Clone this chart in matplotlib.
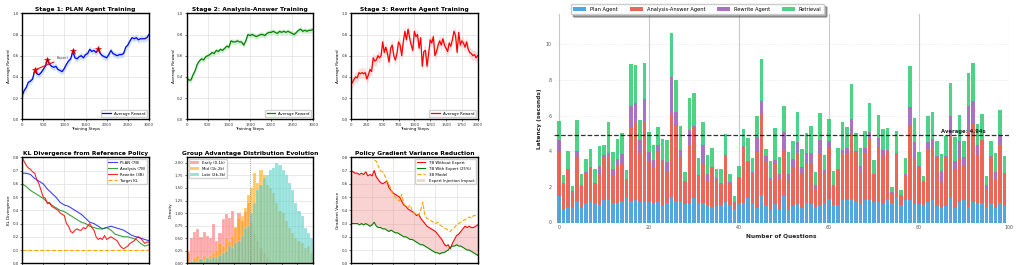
import matplotlib
matplotlib.use('Agg')
import matplotlib.pyplot as plt
import numpy as np

plt.rcParams['font.family'] = 'DejaVu Sans'

# ---------------- data ----------------
steps_3000 = np.arange(0, 3001, 50)
steps_2000 = np.arange(0, 2001, 25)
steps_kl100 = np.arange(0, 3001, 100)

stage1_reward = [0.22, 0.27, 0.30, 0.35, 0.36, 0.38, 0.46, 0.43, 0.42, 0.44, 0.47, 0.50, 0.56, 0.52,
                 0.50, 0.49, 0.50, 0.47, 0.46, 0.45, 0.48, 0.52, 0.55, 0.57, 0.64, 0.58, 0.57, 0.59,
                 0.60, 0.58, 0.61, 0.62, 0.66, 0.64, 0.65, 0.63, 0.66, 0.62, 0.60, 0.59, 0.58, 0.61,
                 0.65, 0.62, 0.61, 0.60, 0.61, 0.61, 0.62, 0.68, 0.70, 0.74, 0.77, 0.76, 0.77, 0.75,
                 0.76, 0.76, 0.76, 0.77, 0.80]
stage1_band = 0.03
expert_steps = [300, 600, 1200, 1800]
expert_rewards = [0.465, 0.56, 0.64, 0.66]

stage2_reward = [0.39, 0.37, 0.37, 0.42, 0.46, 0.52, 0.55, 0.57, 0.56, 0.59, 0.60, 0.61, 0.63, 0.62,
                 0.65, 0.64, 0.66, 0.65, 0.67, 0.69, 0.68, 0.74, 0.73, 0.73, 0.74, 0.73, 0.73, 0.70,
                 0.74, 0.80, 0.79, 0.80, 0.79, 0.78, 0.79, 0.80, 0.80, 0.79, 0.81, 0.82, 0.82, 0.83,
                 0.82, 0.81, 0.83, 0.82, 0.83, 0.82, 0.83, 0.82, 0.81, 0.80, 0.82, 0.84, 0.85, 0.83,
                 0.84, 0.83, 0.84, 0.84, 0.85]
stage2_band = 0.025

stage3_reward = [0.33, 0.35, 0.38, 0.40, 0.39, 0.44, 0.43, 0.44, 0.43, 0.44, 0.38, 0.42, 0.47, 0.45,
                 0.58, 0.55, 0.56, 0.60, 0.58, 0.60, 0.73, 0.63, 0.68, 0.62, 0.54, 0.67, 0.70, 0.60,
                 0.56, 0.62, 0.73, 0.70, 0.60, 0.73, 0.83, 0.75, 0.85, 0.77, 0.70, 0.65, 0.83, 0.78,
                 0.80, 0.67, 0.77, 0.50, 0.64, 0.65, 0.50, 0.62, 0.75, 0.72, 0.78, 0.60, 0.64, 0.70,
                 0.74, 0.70, 0.76, 0.70, 0.67, 0.64, 0.72, 0.69, 0.75, 0.83, 0.79, 0.63, 0.82, 0.70,
                 0.74, 0.72, 0.68, 0.73, 0.66, 0.63, 0.62, 0.60, 0.61, 0.58, 0.60]
stage3_band = 0.05

kl_plan = [0.68, 0.68, 0.67, 0.64, 0.62, 0.60, 0.56, 0.53, 0.50, 0.46, 0.44, 0.43, 0.41, 0.39, 0.37,
           0.34, 0.31, 0.30, 0.28, 0.26, 0.27, 0.28, 0.27, 0.26, 0.25, 0.23, 0.21, 0.20, 0.19, 0.18, 0.17]
kl_analysis = [0.60, 0.58, 0.55, 0.53, 0.51, 0.49, 0.46, 0.44, 0.42, 0.40, 0.39, 0.37, 0.35, 0.33,
               0.31, 0.30, 0.28, 0.27, 0.26, 0.26, 0.27, 0.25, 0.22, 0.21, 0.20, 0.20, 0.19, 0.18,
               0.15, 0.13, 0.14]
kl_rewrite = [0.80, 0.77, 0.74, 0.72, 0.71, 0.69, 0.68, 0.63, 0.60, 0.55, 0.50, 0.49, 0.45, 0.46,
              0.43, 0.42, 0.41, 0.40, 0.38, 0.37, 0.36, 0.30, 0.28, 0.24, 0.23, 0.25, 0.26, 0.25,
              0.25, 0.27, 0.26, 0.28, 0.30, 0.27, 0.25, 0.20, 0.18, 0.19, 0.18, 0.21, 0.18, 0.19,
              0.20, 0.19, 0.18, 0.17, 0.14, 0.12, 0.11, 0.12, 0.13, 0.15, 0.16, 0.17, 0.19, 0.20,
              0.19, 0.17, 0.15, 0.16, 0.16]
kl_target = 0.1

adv_bins = np.arange(-2.0, 2.0001, 0.1)
adv_early = [0.20, 0.50, 0.62, 0.68, 0.52, 0.62, 0.55, 0.50, 0.78, 0.45, 0.60, 0.88, 0.98, 0.90,
             1.05, 0.70, 1.00, 0.85, 1.02, 1.20, 0.80, 0.60, 0.45, 0.30, 0.20, 0.12, 0.05, 0.02,
             0.0, 0.0, 0.0, 0.0, 0.0, 0.0, 0.0, 0.0, 0.0, 0.0, 0.0, 0.0]
adv_mid = [0.25, 0.05, 0.10, 0.15, 0.08, 0.15, 0.10, 0.15, 0.20, 0.25, 0.40, 0.35, 0.50, 0.45,
           0.55, 0.72, 0.90, 0.95, 1.10, 1.35, 1.50, 1.80, 1.60, 1.85, 1.75, 1.55, 1.50, 1.40,
           1.20, 1.05, 1.00, 0.85, 0.70, 0.60, 0.50, 0.45, 0.40, 0.30, 0.35, 0.20]
adv_late = [0.0, 0.02, 0.05, 0.03, 0.08, 0.05, 0.10, 0.08, 0.12, 0.10, 0.15, 0.20, 0.25, 0.35,
            0.30, 0.40, 0.45, 0.55, 0.70, 0.75, 1.00, 1.20, 1.45, 1.55, 1.70, 1.75, 1.85, 1.90,
            2.00, 1.95, 1.85, 1.75, 1.60, 1.45, 1.20, 1.05, 0.95, 0.70, 0.60, 0.50]

var_no_expert = [0.70, 0.69, 0.68, 0.68, 0.67, 0.68, 0.67, 0.69, 0.66, 0.67, 0.66, 0.70, 0.65, 0.63,
                 0.61, 0.60, 0.61, 0.62, 0.57, 0.55, 0.53, 0.52, 0.51, 0.50, 0.47, 0.44, 0.43, 0.41,
                 0.40, 0.39, 0.38, 0.36, 0.37, 0.34, 0.32, 0.30, 0.28, 0.27, 0.26, 0.25, 0.24, 0.22,
                 0.20, 0.18, 0.15, 0.13, 0.14, 0.11, 0.15, 0.18, 0.21, 0.22, 0.24, 0.26, 0.28, 0.27,
                 0.28, 0.27, 0.27, 0.28, 0.29]
var_with_expert = [0.30, 0.30, 0.30, 0.30, 0.29, 0.30, 0.29, 0.30, 0.29, 0.28, 0.29, 0.31, 0.28, 0.27,
                   0.27, 0.26, 0.26, 0.25, 0.24, 0.25, 0.24, 0.23, 0.23, 0.22, 0.21, 0.20, 0.20, 0.19,
                   0.18, 0.18, 0.17, 0.16, 0.15, 0.14, 0.14, 0.13, 0.12, 0.11, 0.10, 0.09, 0.08, 0.08,
                   0.07, 0.08, 0.08, 0.09, 0.10, 0.12, 0.13, 0.13, 0.14, 0.13, 0.13, 0.12, 0.11, 0.10,
                   0.10, 0.09, 0.08, 0.07, 0.06]
var_3b_steps = np.arange(500, 3001, 50)
var_3b = [0.82, 0.78, 0.77, 0.73, 0.70, 0.69, 0.66, 0.62, 0.60, 0.55, 0.52, 0.50, 0.48, 0.47, 0.52,
          0.45, 0.43, 0.42, 0.44, 0.40, 0.38, 0.37, 0.36, 0.40, 0.46, 0.36, 0.34, 0.33, 0.32, 0.31,
          0.30, 0.31, 0.29, 0.28, 0.27, 0.26, 0.25, 0.24, 0.26, 0.27, 0.29, 0.30, 0.31, 0.32, 0.33,
          0.34, 0.35, 0.34, 0.36, 0.36, 0.36]

# latency: cumulative stack tops, per question (0..99)
plan_top = [1.50, 0.71, 0.86, 0.82, 1.20, 0.82, 1.07, 1.16, 1.07, 0.99, 1.29, 1.29, 1.07, 1.10, 1.22,
            1.39, 1.18, 1.25, 1.16, 1.16, 1.14, 1.10, 1.16, 0.94, 1.07, 1.44, 1.20, 1.16, 1.03, 1.03,
            1.40, 1.03, 1.07, 0.94, 0.88, 0.94, 0.97, 1.16, 1.01, 0.75, 1.09, 1.09, 1.40, 1.07, 0.82,
            1.54, 1.01, 0.71, 1.03, 0.70, 1.54, 0.69, 0.94, 1.03, 0.84, 1.07, 1.03, 0.88, 1.01, 1.07,
            1.31, 1.01, 1.01, 1.29, 1.25, 1.25, 1.20, 1.07, 1.29, 1.29, 1.16, 1.16, 1.03, 1.31, 1.07,
            1.44, 0.97, 1.25, 1.29, 1.03, 1.03, 1.01, 1.16, 1.25, 0.94, 0.82, 0.94, 1.40, 0.82, 1.16,
            1.25, 0.88, 1.16, 1.03, 1.10, 0.88, 1.07, 0.79, 1.10, 0.94]
analysis_top = [3.97, 2.19, 2.94, 1.72, 3.69, 2.06, 2.79, 3.09, 2.19, 2.75, 3.69, 3.69, 2.66, 3.20, 3.35,
                2.38, 5.32, 5.65, 3.93, 5.65, 3.45, 3.13, 4.00, 3.45, 2.85, 6.12, 5.47, 3.69, 2.28, 4.34,
                5.37, 2.62, 3.31, 2.34, 3.09, 2.42, 2.19, 3.75, 2.23, 1.10, 2.53, 4.25, 3.41, 2.79, 3.97,
                6.12, 3.41, 2.47, 3.31, 2.42, 4.06, 2.34, 3.13, 3.82, 2.75, 3.31, 3.31, 1.87, 3.84, 2.75,
                4.19, 2.10, 3.00, 3.88, 3.88, 4.96, 3.97, 2.85, 3.88, 4.76, 2.72, 4.25, 3.78, 4.03, 1.67,
                3.88, 1.48, 2.66, 5.41, 3.60, 3.13, 2.28, 4.10, 4.21, 3.69, 2.28, 3.69, 4.91, 2.98, 3.63,
                3.16, 5.09, 5.56, 3.78, 4.63, 1.85, 3.69, 2.47, 4.34, 2.75]
rewrite_top = [4.63, 2.23, 3.00, 1.76, 4.00, 2.10, 2.83, 3.13, 2.23, 3.16, 3.78, 3.93, 3.00, 3.54, 3.82,
               2.42, 6.55, 6.72, 4.66, 6.91, 3.97, 3.50, 4.33, 3.50, 3.41, 8.18, 6.22, 4.06, 2.32, 5.22,
               5.41, 2.66, 4.34, 2.75, 3.13, 2.49, 2.23, 3.78, 2.27, 1.14, 2.57, 4.29, 3.46, 2.85, 4.81,
               6.82, 3.75, 2.51, 3.50, 2.75, 5.10, 2.75, 3.58, 4.53, 3.09, 3.91, 3.88, 2.10, 4.66, 2.94,
               4.59, 2.13, 3.03, 4.06, 4.16, 5.79, 4.00, 3.20, 4.16, 5.09, 2.75, 4.76, 4.06, 4.06, 1.70,
               3.91, 1.52, 2.70, 6.50, 4.53, 3.16, 2.32, 4.53, 4.68, 3.73, 2.88, 3.73, 5.97, 3.45, 4.57,
               3.69, 6.55, 6.84, 4.38, 4.66, 2.10, 3.73, 2.85, 4.85, 2.79]
retrieval_top = [5.69, 2.66, 4.03, 2.04, 5.75, 2.75, 3.56, 4.12, 3.00, 4.29, 4.34, 5.66, 3.95, 4.68, 5.04,
                 2.94, 8.90, 8.84, 5.78, 8.93, 5.09, 4.34, 5.37, 4.68, 4.63, 10.65, 8.00, 5.41, 2.85, 6.97,
                 7.30, 3.65, 5.64, 3.78, 4.21, 3.03, 3.00, 4.96, 2.72, 1.50, 3.16, 5.24, 4.74, 3.60, 5.97,
                 9.19, 4.12, 3.46, 5.28, 3.69, 6.54, 3.97, 4.57, 6.20, 4.12, 5.04, 5.41, 2.83, 6.16, 3.78,
                 5.79, 2.88, 4.21, 5.66, 5.37, 7.77, 5.00, 4.19, 5.13, 6.72, 3.50, 6.03, 5.24, 5.32, 2.00,
                 5.13, 1.82, 3.63, 8.78, 5.88, 3.97, 2.60, 5.97, 6.22, 4.57, 3.82, 4.85, 7.85, 4.78, 6.03,
                 4.57, 8.37, 8.93, 5.52, 6.12, 2.60, 4.57, 3.93, 6.31, 3.73]
avg_latency = 4.94

plan_lat = np.array(plan_top)
analysis_lat = np.array(analysis_top) - np.array(plan_top)
rewrite_lat = np.array(rewrite_top) - np.array(analysis_top)
retrieval_lat = np.array(retrieval_top) - np.array(rewrite_top)
questions = np.arange(len(plan_top))

# ---------------- figure ----------------
W, H = 1020, 265
fig = plt.figure(figsize=(W / 100, H / 100), dpi=100)

def px_axes(left, top, right, bottom):
    return fig.add_axes([left / W, (H - bottom) / H, (right - left) / W, (bottom - top) / H])

TICK = 2.8
LAB = 3.0
TITLE = 4.3

def style_small(ax):
    for s in ax.spines.values():
        s.set_linewidth(1.0)
        s.set_color('black')
    ax.tick_params(labelsize=TICK, length=1.5, width=0.5, pad=1, colors='#333333')
    ax.grid(True, color='#e0e0e0', linewidth=0.5)
    ax.set_axisbelow(True)

cols = [(22, 149), (186.7, 313.3), (351, 477.7)]
top_row = (13.3, 119.3)
bot_row = (157.3, 263.3)

def reward_panel(ax, x, y, band, color, bandcolor, title, xmax, xticks):
    y = np.array(y)
    ax.fill_between(x, y - band, y + band, color=bandcolor, alpha=0.35, linewidth=0)
    ax.plot(x, y, color=color, linewidth=0.9, label='Average Reward')
    ax.set_xlim(0, xmax)
    ax.set_ylim(0, 1.0)
    ax.set_xticks(xticks)
    ax.set_yticks(np.arange(0, 1.01, 0.2))
    ax.set_title(title, fontsize=TITLE, fontweight='bold', pad=2)
    ax.set_xlabel('Training Steps', fontsize=LAB, labelpad=0.5)
    ax.set_ylabel('Average Reward', fontsize=LAB, labelpad=1)
    style_small(ax)
    ax.legend(loc='lower right', fontsize=TICK, handlelength=2.2, borderpad=0.4, framealpha=0.9)

ax1 = px_axes(cols[0][0], top_row[0], cols[0][1], top_row[1])
reward_panel(ax1, steps_3000, stage1_reward, stage1_band, 'blue', '#7fb2e0',
             'Stage 1: PLAN Agent Training', 3000, np.arange(0, 3001, 500))
ax1.plot(expert_steps, expert_rewards, linestyle='none', marker='*', markersize=5,
         markerfacecolor='darkred', markeredgecolor='red', markeredgewidth=0.4)
ax1.annotate('Expert', xy=(expert_steps[0], expert_rewards[0]), xytext=(820, 0.575),
             fontsize=2.6, color='#444444', va='center',
             arrowprops=dict(arrowstyle='-', color='red', lw=0.8, shrinkA=0, shrinkB=0))

ax2 = px_axes(cols[1][0], top_row[0], cols[1][1], top_row[1])
reward_panel(ax2, steps_3000, stage2_reward, stage2_band, 'green', '#7fd07f',
             'Stage 2: Analysis-Answer Training', 3000, np.arange(0, 3001, 500))

ax3 = px_axes(cols[2][0], top_row[0], cols[2][1], top_row[1])
reward_panel(ax3, steps_2000, stage3_reward, stage3_band, 'red', '#f4a0a0',
             'Stage 3: Rewrite Agent Training', 2000, np.arange(0, 2001, 250))

# KL divergence
ax4 = px_axes(cols[0][0], bot_row[0], cols[0][1], bot_row[1])
ax4.plot(steps_kl100, kl_plan, color='blue', alpha=0.75, linewidth=0.8, label='PLAN (7B)')
ax4.plot(steps_kl100, kl_analysis, color='green', alpha=0.75, linewidth=0.8, label='Analysis (7B)')
ax4.plot(steps_3000, kl_rewrite, color='red', alpha=0.85, linewidth=0.8, label='Rewrite (3B)')
ax4.axhline(kl_target, color='orange', linestyle='--', linewidth=0.8, label='Target KL')
ax4.set_xlim(0, 3000)
ax4.set_ylim(0, 0.8)
ax4.set_xticks(np.arange(0, 3001, 500))
ax4.set_yticks(np.arange(0, 0.81, 0.1))
ax4.set_title('KL Divergence from Reference Policy', fontsize=TITLE, fontweight='bold', pad=2)
ax4.set_ylabel('KL Divergence', fontsize=LAB, labelpad=1)
style_small(ax4)
ax4.legend(loc='upper right', fontsize=TICK, handlelength=2.2, borderpad=0.4, framealpha=0.9)

# advantage histogram
ax5 = px_axes(cols[1][0], bot_row[0], cols[1][1], bot_row[1])
centers = (adv_bins[:-1] + adv_bins[1:]) / 2
bw = adv_bins[1] - adv_bins[0]
ax5.bar(centers, adv_early, width=bw, color='#ff6b6b', alpha=0.6, edgecolor='white', linewidth=0.2,
        label='Early (0-1k)')
ax5.bar(centers, adv_mid, width=bw, color='orange', alpha=0.6, edgecolor='white', linewidth=0.2,
        label='Mid (1k-2k)')
ax5.bar(centers, adv_late, width=bw, color='#4ecdc4', alpha=0.6, edgecolor='white', linewidth=0.2,
        label='Late (2k-3k)')
ax5.axvline(0, color='gray', linestyle=':', linewidth=0.6)
ax5.set_xlim(-2, 2)
ax5.set_ylim(0, 2.11)
ax5.set_yticks(np.arange(0, 2.01, 0.25))
ax5.set_title('Group Advantage Distribution Evolution', fontsize=TITLE, fontweight='bold', pad=2)
ax5.set_ylabel('Density', fontsize=LAB, labelpad=1)
style_small(ax5)
ax5.grid(axis='x', visible=False)
ax5.legend(loc='upper left', fontsize=TICK, handlelength=2.2, borderpad=0.4, framealpha=0.9)

# gradient variance
ax6 = px_axes(cols[2][0], bot_row[0], cols[2][1], bot_row[1])
ax6.plot(steps_3000, var_no_expert, color='red', linewidth=0.8, label='7B Without Expert')
ax6.plot(steps_3000, var_with_expert, color='green', linewidth=0.8, label='7B With Expert (25%)')
ax6.plot(var_3b_steps, var_3b, color='orange', linestyle='--', linewidth=0.8, label='3B Model')
ax6.fill_between(steps_3000, var_with_expert, var_no_expert, color='#f08080', alpha=0.35,
                 linewidth=0, label='Expert Injection Impact')
ax6.set_xlim(0, 3000)
ax6.set_ylim(0, 0.8)
ax6.set_xticks(np.arange(0, 3001, 500))
ax6.set_yticks(np.arange(0, 0.81, 0.1))
ax6.set_title('Policy Gradient Variance Reduction', fontsize=TITLE, fontweight='bold', pad=2)
ax6.set_ylabel('Gradient Variance', fontsize=LAB, labelpad=1)
style_small(ax6)
ax6.legend(loc='upper right', fontsize=TICK, handlelength=2.2, borderpad=0.4, framealpha=0.9)

# bottom-row x tick labels fall below the picture edge in the reference: keep ticks, hide labels
for ax in (ax4, ax5, ax6):
    ax.tick_params(axis='x', labelbottom=False)

# latency stacked bars
ax7 = px_axes(554.5, 14, 1009, 222.5)
ax7.bar(questions, plan_lat, width=0.8, color='#3498db', alpha=0.85, label='Plan Agent')
ax7.bar(questions, analysis_lat, width=0.8, bottom=plan_lat, color='#e74c3c', alpha=0.85,
        label='Analysis-Answer Agent')
ax7.bar(questions, rewrite_lat, width=0.8, bottom=plan_lat + analysis_lat, color='#9b59b6',
        alpha=0.85, label='Rewrite Agent')
ax7.bar(questions, retrieval_lat, width=0.8, bottom=plan_lat + analysis_lat + rewrite_lat,
        color='#2ecc71', alpha=0.85, label='Retrieval')
ax7.axhline(avg_latency, color='black', linestyle='--', linewidth=0.9, alpha=0.8)
ax7.text(85, avg_latency + 0.05, f'Average: {avg_latency:.2f}s', fontsize=3.8, fontweight='bold',
         va='bottom', ha='left', color='#222222')
ax7.set_xlim(-1, 100)
ax7.set_ylim(0, 11.71)
ax7.set_xticks(np.arange(0, 101, 20))
ax7.set_yticks(np.arange(0, 11, 2))
for s in ax7.spines.values():
    s.set_visible(False)
ax7.tick_params(labelsize=3.4, length=0, pad=2, colors='#555555')
ax7.grid(axis='x', color='#c8c8c8', linewidth=0.8)
ax7.grid(axis='y', color='#dddddd', linewidth=0.5, linestyle=':')
ax7.set_axisbelow(True)
ax7.set_xlabel('Number of Questions', fontsize=4.2, fontweight='bold', labelpad=2, color='#222222')
ax7.set_ylabel('Latency (seconds)', fontsize=4.2, fontweight='bold', labelpad=3, color='#222222')
ax7.legend(loc='upper left', bbox_to_anchor=(0.03, 1.06), ncol=4, fontsize=3.7, frameon=True,
           shadow=True, fancybox=True, handlelength=2.5, handleheight=1.0, handletextpad=0.8,
           columnspacing=2.3, borderpad=0.5)

fig.savefig('out.png', dpi=100)
